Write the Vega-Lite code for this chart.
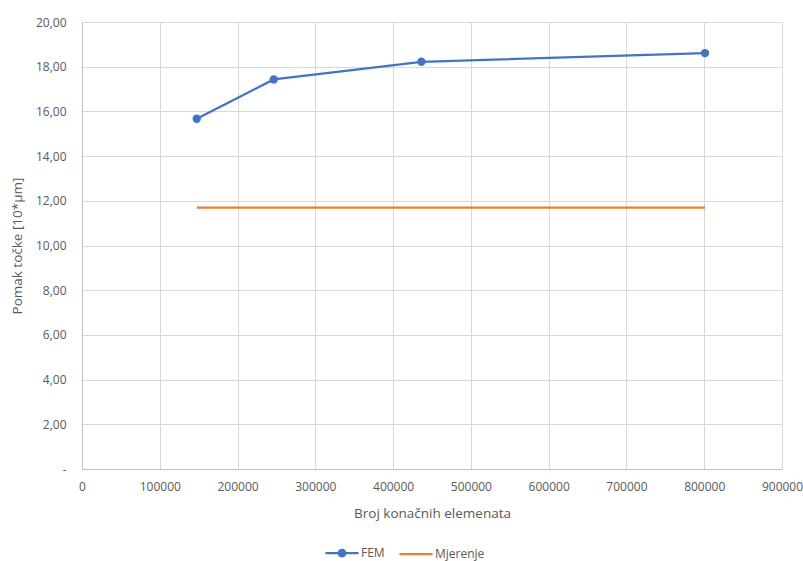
{
  "$schema": "https://vega.github.io/schema/vega-lite/v6.json",
  "width": 700,
  "height": 447,
  "autosize": {"type": "none"},
  "padding": {"left": 82, "top": 22, "right": 21, "bottom": 92},
  "background": "white",
  "data": {
    "values": [
      {"n": 147550, "v": 15.67, "series": "FEM"},
      {"n": 246500, "v": 17.43, "series": "FEM"},
      {"n": 436400, "v": 18.22, "series": "FEM"},
      {"n": 801000, "v": 18.61, "series": "FEM"},
      {"n": 147550, "v": 11.69, "series": "Mjerenje"},
      {"n": 246500, "v": 11.69, "series": "Mjerenje"},
      {"n": 436400, "v": 11.69, "series": "Mjerenje"},
      {"n": 801000, "v": 11.69, "series": "Mjerenje"}
    ]
  },
  "encoding": {
    "x": {
      "field": "n", "type": "quantitative",
      "scale": {"domain": [0, 900000], "nice": false},
      "axis": {
        "title": "Broj konačnih elemenata",
        "values": [0, 100000, 200000, 300000, 400000, 500000, 600000, 700000, 800000, 900000],
        "format": "d",
        "labelFlush": false,
        "labelOverlap": false,
        "labelPadding": 12,
        "titlePadding": 14
      }
    },
    "y": {
      "field": "v", "type": "quantitative",
      "scale": {"domain": [0, 20], "nice": false},
      "axis": {
        "title": "Pomak točke [10*µm]",
        "values": [0, 2, 4, 6, 8, 10, 12, 14, 16, 18, 20],
        "labelExpr": "datum.value === 0 ? '-' : replace(format(datum.value, '.2f'), '.', ',')",
        "labelFlush": false,
        "labelOverlap": false,
        "labelPadding": 16,
        "titlePadding": 11
      }
    },
    "color": {
      "field": "series", "type": "nominal",
      "scale": {"domain": ["FEM", "Mjerenje"], "range": ["#4472C4", "#ED7D31"]},
      "legend": {
        "title": null,
        "orient": "none",
        "direction": "horizontal",
        "legendX": 242,
        "legendY": 513,
        "symbolSize": 1100,
        "symbolStrokeWidth": 2.25,
        "columnPadding": 9,
        "labelOffset": 1,
        "encode": {
          "symbols": {
            "update": {
              "shape": {"signal": "datum.value === 'FEM' ? 'M-1,0L1,0M0.2,0A0.2,0.2 0 1,1 -0.2,0A0.2,0.2 0 1,1 0.2,0Z' : 'M-1,0L1,0'"},
              "fill": {"signal": "datum.value === 'FEM' ? '#4472C4' : 'transparent'"}
            }
          }
        }
      }
    }
  },
  "layer": [
    {"mark": {"type": "line", "strokeWidth": 2.25}},
    {
      "transform": [{"filter": "datum.series === 'FEM'"}],
      "mark": {"type": "point", "filled": true, "size": 70, "opacity": 1}
    }
  ],
  "config": {
    "view": {"stroke": null},
    "font": "Open Sans",
    "axis": {
      "labelFont": "Open Sans",
      "labelFontSize": 12,
      "labelColor": "#595959",
      "titleFont": "Open Sans",
      "titleFontSize": 13.5,
      "titleFontWeight": "normal",
      "titleColor": "#595959",
      "gridColor": "#d9d9d9",
      "gridWidth": 1,
      "domainColor": "#bfbfbf",
      "tickSize": 0,
      "ticks": false
    },
    "legend": {
      "labelFont": "Open Sans",
      "labelFontSize": 12,
      "labelColor": "#595959"
    }
  }
}
